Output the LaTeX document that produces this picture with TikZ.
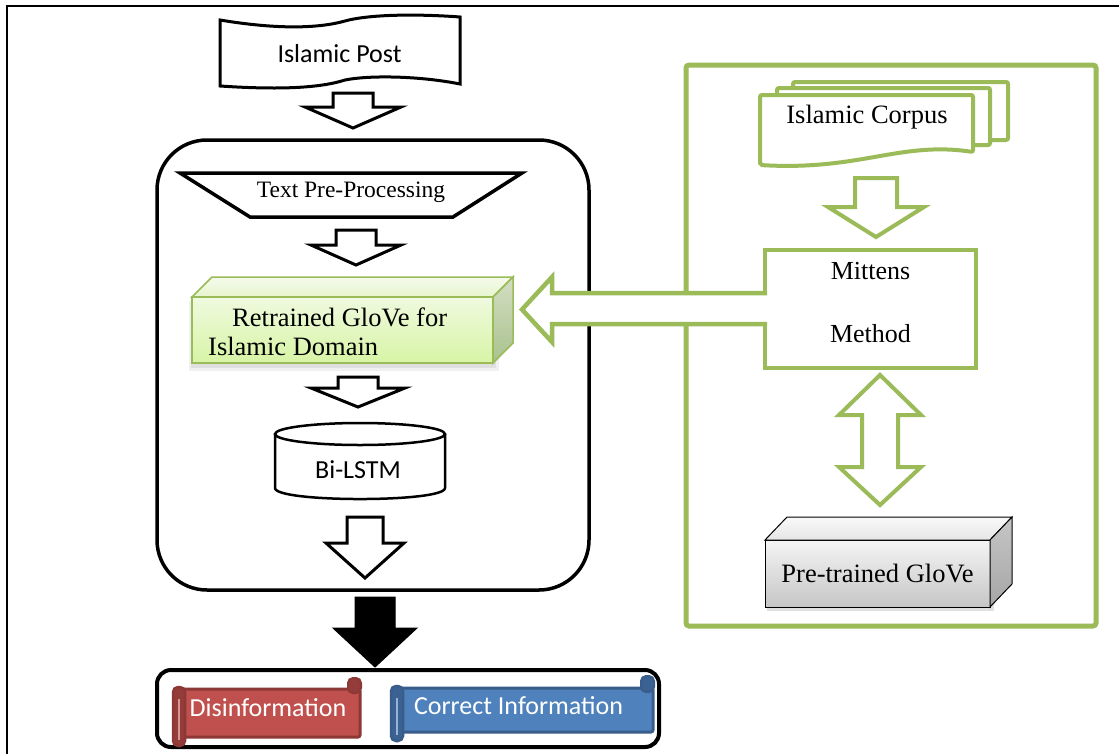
\documentclass[tikz,border=0pt]{standalone}
\usepackage{fontspec}
\setmainfont{Liberation Serif}
\newfontfamily\calibri{Carlito}
\definecolor{ogreen}{HTML}{9BBB59}
\definecolor{gfronttop}{HTML}{EFFADF}
\definecolor{gfrontbot}{HTML}{D7F4A5}
\definecolor{gtoptop}{HTML}{F5FBEC}
\definecolor{gtopbot}{HTML}{E6F5CC}
\definecolor{gsidetop}{HTML}{D3DEC3}
\definecolor{gsidebot}{HTML}{A9C28C}
\definecolor{sred}{HTML}{C0504D}
\definecolor{sreddk}{HTML}{8C3836}
\definecolor{sblue}{HTML}{4F81BD}
\definecolor{sbluedk}{HTML}{385D8A}
% #1 opts, #2 cx, #3 top, #4 shaft half width, #5 shaft length, #6 head half width, #7 head length
\newcommand{\blockdn}[7][]{%
  \draw[#1] ({#2-#4},#3) -- ({#2+#4},#3) -- ({#2+#4},{#3+#5}) -- ({#2+#6},{#3+#5})
    -- (#2,{#3+#5+#7}) -- ({#2-#6},{#3+#5}) -- ({#2-#4},{#3+#5}) -- cycle;}
% scroll: #1 name, #2 fill, #3 dark, #4 body x1, #5 body y1, #6 body x2, #7 body y2, #8 roll bottom, #9 curl top
\newcommand{\hscroll}[9]{%
  \draw[fill=#2, draw=#3, line width=3pt, rounded corners=2pt] (#4,#5) rectangle (#6,#7);
  \draw[fill=#3!85!#2, draw=#3, line width=2.5pt, rounded corners=5pt] ({#4-10},{#5-2}) rectangle ({#4+2},#8);
  \draw[#2!60!white, line width=1.5pt] ({#4-4},{#5+10}) -- ({#4-4},{#8-6});
  \draw[fill=#3!85!#2, draw=#3, line width=2pt, rounded corners=5pt] ({#6-12},#9) rectangle ({#6+1},{#5+4});
}
\begin{document}
\begin{tikzpicture}[x=1pt,y=-1pt,
  blk/.style={line width=3pt, draw=black, fill=white, line join=miter},
  gblk/.style={line width=4pt, draw=ogreen, fill=white, line join=miter},
  gdoc/.style={line width=4pt, draw=ogreen, fill=white, rounded corners=2pt},
  ser/.style={font=\fontsize{26.5}{29}\selectfont, inner sep=0pt},
  sans/.style={font=\calibri\fontsize{26}{30}\selectfont, inner sep=0pt}]
\useasboundingbox (0,0) rectangle (1119,753);
\clip (0,0) rectangle (1119,753);
\fill[white] (0,0) rectangle (1119,753);
\draw[line width=2.2pt] (7,770) -- (7,6) -- (1130,6);

% containers
\node[draw, line width=3.5pt, rounded corners=50pt, minimum width=432pt, minimum height=450pt, inner sep=0pt] (pipeline) at (373,365) {};
\node[draw=ogreen, line width=5pt, rounded corners=3pt, minimum width=410pt, minimum height=561pt, inner sep=0pt] (resources) at (891,345.5) {};
\node[draw, line width=4pt, rounded corners=14pt, minimum width=502pt, minimum height=77pt, inner sep=0pt] (output) at (408,708.5) {};

% Islamic Post banner
\draw[line width=3pt, fill=white] (220,20) .. controls (280,30) and (320,28) .. (345,21)
  .. controls (370,14) and (420,14) .. (460,17) -- (460,84)
  .. controls (420,76) and (370,75) .. (345,80)
  .. controls (320,88) and (280,90) .. (220,86) -- cycle;
\node[sans, anchor=base] (post) at (339.5,62) {Islamic Post};
\blockdn[blk]{353}{93}{20}{14}{48}{21}

% Text pre-processing
\draw[line width=3.5pt, fill=white, line join=miter] (180,173) -- (522,173) -- (453,217) -- (250,217) -- cycle;
\node[font=\fontsize{23.5}{26}\selectfont, inner sep=0pt, anchor=base] (prep) at (351,197) {Text Pre-Processing};
\blockdn[blk]{356}{230}{20}{15}{45}{20}

% Retrained GloVe cuboid
\fill[black, opacity=0.06] (189,301) rectangle (499,371);
\fill[black, opacity=0.07] (191,300) rectangle (496,368);
\shade[top color=gtoptop, bottom color=gtopbot, draw=ogreen, line width=1.5pt] (192,297) -- (212,277) -- (513,277) -- (493,297) -- cycle;
\shade[top color=gsidetop, bottom color=gsidebot, draw=ogreen, line width=1.5pt] (493,297) -- (513,277) -- (513,343) -- (493,363) -- cycle;
\shade[top color=gfronttop, bottom color=gfrontbot] (192,297) rectangle (493,363);
\draw[ogreen, line width=1.5pt] (192,297) rectangle (493,363);
\node[ser, anchor=base west] (retrained) at (208,326) {\begin{tabular}[t]{@{}l@{}}\hspace*{24pt}Retrained GloVe for\\Islamic Domain\end{tabular}};
\blockdn[blk]{358}{377}{20}{11}{47}{19}

% Bi-LSTM cylinder
\draw[line width=2.5pt, fill=white] (275,434) -- (275,488) .. controls (275,502.7) and (445,502.7) .. (445,488) -- (445,434);
\draw[line width=2.5pt, fill=white] (360,434) ellipse[x radius=85, y radius=11];
\node[sans, anchor=base] (bilstm) at (358,478) {Bi-LSTM};
\blockdn[blk]{365}{517}{18}{26}{39}{35}

% black output arrow
\blockdn[fill=black, draw=black, line width=1pt]{375}{597}{20}{31}{42}{39}

% output scrolls
\hscroll{d}{sred}{sreddk}{183}{689}{360}{737}{746}{678}
\node[sans, text=white, anchor=base] (disinfo) at (268,716) {Disinformation};
\hscroll{c}{sblue}{sbluedk}{401}{688}{653}{732}{741}{676}
\node[sans, text=white, anchor=base] (correct) at (518.5,714) {Correct Information};

% Islamic corpus documents
\draw[gdoc] (793,82) rectangle (1008,140);
\draw[gdoc] (777,88) rectangle (990,145);
\draw[gdoc] (760,95) -- (973,95) -- (973,152) .. controls (900,141) and (860,171) .. (760,165) -- cycle;
\node[ser, anchor=base] (corpus) at (867,123) {Islamic Corpus};
\blockdn[gblk]{876}{178}{21}{29}{48}{30}

% Mittens
\node[draw=ogreen, line width=4pt, minimum width=211pt, minimum height=118pt, inner sep=0pt, fill=white] (mittens) at (870.5,309) {};
\node[font=\fontsize{26}{63}\selectfont, inner sep=0pt, anchor=base] (mtext) at (870.5,279) {\begin{tabular}[t]{@{}c@{}}Mittens\\Method\end{tabular}};

% double arrow
\draw[gblk] (880,375) -- (921,415) -- (898,415) -- (898,467) -- (921,467) -- (880,505)
  -- (839,467) -- (862,467) -- (862,415) -- (839,415) -- cycle;

% Pre-trained GloVe cuboid
\fill[black, opacity=0.12] (767,543) rectangle (994,611);
\shade[top color=gray!8, bottom color=gray!45, draw=black, line width=1pt] (765,540) rectangle (990,607);
\shade[top color=gray!5, bottom color=gray!20, draw=black, line width=1pt] (765,540) -- (787,517) -- (1012,517) -- (990,540) -- cycle;
\shade[top color=gray!45, bottom color=gray!70, draw=black, line width=1pt] (990,540) -- (1012,517) -- (1012,584) -- (990,607) -- cycle;
\node[ser, anchor=base] (pretrained) at (877.5,582) {Pre-trained GloVe};

% Mittens -> Retrained arrow
\fill[white] (767,293) -- (552,293) -- (552,277) -- (522,309.5) -- (552,342) -- (552,324) -- (767,324) -- cycle;
\draw[ogreen, line width=4.5pt, line join=miter] (767,293) -- (552,293) -- (552,277) -- (522,309.5) -- (552,342) -- (552,324) -- (767,324);
\end{tikzpicture}
\end{document}
